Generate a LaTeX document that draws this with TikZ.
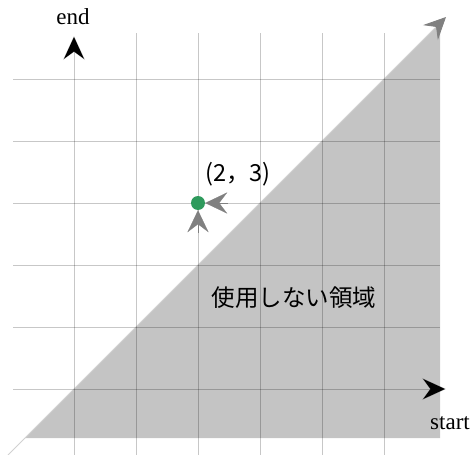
\documentclass[tikz,border=0pt]{standalone}
\usepackage{fontspec}
\setmainfont{Liberation Serif}
\newfontfamily\jpfont{Noto Sans CJK JP}
\usetikzlibrary{arrows.meta}
\definecolor{regiongray}{HTML}{C4C4C4}
\definecolor{dotgreen}{HTML}{2E9A5C}
\definecolor{tipgray}{HTML}{808080}
\begin{document}
\begin{tikzpicture}[x=1pt,y=-1pt,
  gridline/.style={draw=black,draw opacity=0.22,line width=0.8pt},
  axistip/.style={-{Stealth[color=black,fill=black,length=24pt,width=22pt,inset=8pt]}},
  pointtip/.style={draw=tipgray,line width=0.1pt,-{Stealth[color=tipgray,fill=tipgray,length=22pt,width=21pt,inset=8pt]}},
  serifl/.style={font=\fontsize{23}{26}\selectfont},
  jpl/.style={font=\jpfont\fontsize{23.5}{26}\selectfont}]
\useasboundingbox (0,0) rectangle (472,455);
% unused region
\fill[regiongray] (25,438) -- (440,438) -- (440,23) -- cycle;
% diagonal
\coordinate (dstart) at (8,455);
\coordinate (dend) at (446,17);
\draw[black!18,line width=0.9pt,-{Stealth[color=tipgray,fill=tipgray,length=22pt,width=21pt,inset=8pt]}] (dstart) -- (dend);
% grid verticals
\foreach \x in {136,198,260,322,384} \draw[gridline] (\x,33) -- (\x,455);
% grid horizontals
\foreach \y in {79,141,203,265,327} \draw[gridline] (13,\y) -- (440,\y);
% axes
\coordinate (eb) at (74,455);
\coordinate (et) at (74,36);
\coordinate (sb) at (13,389);
\coordinate (st) at (446,389);
\draw[gridline,axistip] (eb) -- (et);
\draw[gridline,axistip] (sb) -- (st);
\node[serifl] (endl) at (73,17) {end};
\node[serifl] (startl) at (450,423) {start};
% point
\node[circle,fill=dotgreen,inner sep=0pt,minimum size=14pt] (pt) at (198,203) {};
\coordinate (ra) at (228,203);
\coordinate (ba) at (198,233);
\draw[pointtip] (ra) -- (pt.east);
\draw[pointtip] (ba) -- (pt.south);
\node[jpl] (ptl) at (238,174) {(2，3)};
\node[jpl] (regl) at (294,298) {使用しない領域};
\end{tikzpicture}
\end{document}
